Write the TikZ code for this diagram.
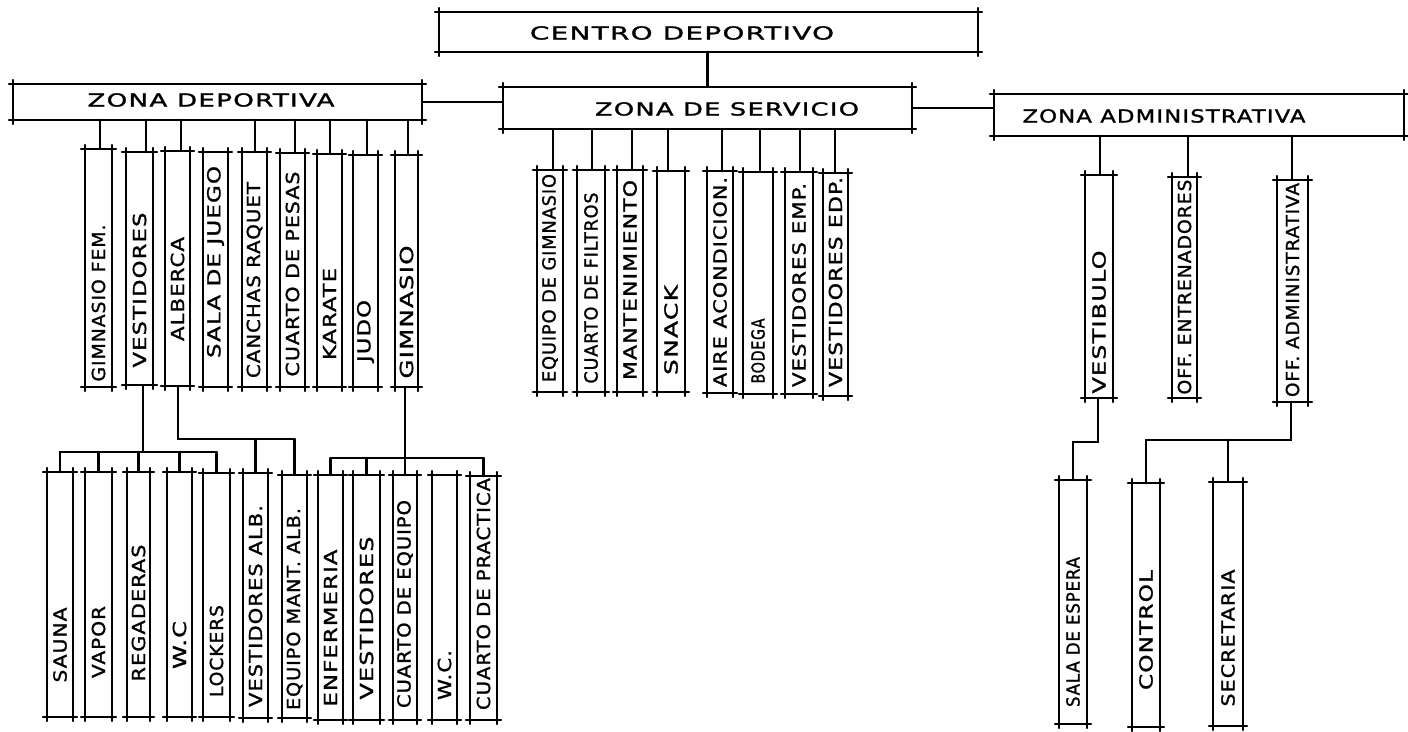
\documentclass[tikz,border=0pt]{standalone}
\usepackage{fontspec}
\usepackage{graphicx}
\usetikzlibrary{fit}
\newfontfamily\handfont{DejaVu Sans}[LetterSpace=5,FakeBold=1.2]
\tikzset{
  ink/.style={line width=1.2pt, line cap=round, draw=black},
  lbl/.style={inner sep=0pt, outer sep=0pt, font=\handfont\fontsize{9}{9}\selectfont},
  frame/.style={inner sep=0pt, outer sep=0pt}
}
% sketched box: name, x1, y1, x2, y2
\newcommand\sketchbox[5]{%
  \node[frame, fit={(#2,#3)(#4,#5)}] (#1) {};
  \draw[ink] ([xshift=-2pt]#1.north west) -- ([xshift=2pt]#1.north east);
  \draw[ink] ([xshift=-2pt]#1.south west) -- ([xshift=2pt]#1.south east);
  \draw[ink] ([yshift=2pt]#1.north west) -- ([yshift=-2pt]#1.south west);
  \draw[ink] ([yshift=2pt]#1.north east) -- ([yshift=-2pt]#1.south east);
}
% vertical room: name, x1, y1, x2, y2, text centre y, text length (px), text
\newcommand\room[8]{%
  \sketchbox{#1}{#2}{#3}{#4}{#5}
  \node[lbl, rotate=90] (#1-t) at ({(#2+#4)/2},#6) {\resizebox{\dimexpr #7pt/2\relax}{\height}{#8}};
}
% zone: name, x1, y1, x2, y2, text x, text y, length, text
\newcommand\zone[9]{%
  \sketchbox{#1}{#2}{#3}{#4}{#5}
  \node[lbl] (#1-t) at (#6,#7) {\resizebox{\dimexpr #8pt/2\relax}{\height}{#9}};
}
\begin{document}
\begin{tikzpicture}[x=0.5pt,y=-0.5pt]
\useasboundingbox (0,0) rectangle (1408,732);
\fill[white] (0,0) rectangle (1408,732);

% ---- zones ----
\zone{cd}{439}{12}{978}{52}{682}{33}{304}{CENTRO DEPORTIVO}
\zone{zd}{13}{84}{422}{120}{211}{100}{247}{ZONA DEPORTIVA}
\zone{zs}{503}{87}{912}{129}{727}{109}{264}{ZONA DE SERVICIO}
\zone{za}{994}{94}{1404}{136}{1164}{116}{283}{ZONA ADMINISTRATIVA}

\draw[ink] (zs.north) -- (zs.north |- cd.south);
\draw[ink] (zd.east) -- (zd.east -| zs.west);
\draw[ink] (zs.east) -- (zs.east -| za.west);

% ---- zona deportiva ----
\room{gf}{85}{149}{112}{387}{303}{157}{GIMNASIO FEM.}
\room{v}{126}{152}{153}{385}{290}{155}{VESTIDORES}
\room{a}{165}{151}{190}{386}{289}{104}{ALBERCA}
\room{sj}{203}{152}{228}{387}{262}{192}{SALA DE JUEGO}
\room{cr}{242}{152}{267}{387}{280}{196}{CANCHAS RAQUET}
\room{cp}{280}{153}{305}{387}{274}{205}{CUARTO DE PESAS}
\room{k}{317}{154}{342}{387}{314}{92}{KARATE}
\room{j}{353}{155}{378}{387}{331}{62}{JUDO}
\room{g}{395}{155}{418}{387}{312}{133}{GIMNASIO}

\foreach \n/\x in {gf/100,v/146,a/181,cr/255,cp/295,k/330,j/367,g/408}
  \draw[ink] (zd.south -| \x,0) -- (\n.north -| \x,0);

% vestidores
\room{sau}{47}{472}{73}{717}{645}{75}{SAUNA}
\room{vap}{85}{472}{112}{717}{642}{72}{VAPOR}
\room{reg}{127}{472}{150}{717}{613}{137}{REGADERAS}
\room{wca}{167}{472}{192}{717}{645}{48}{W.C}
\room{lock}{203}{473}{230}{717}{651}{92}{LOCKERS}
\coordinate (vbar) at (143,452);
\draw[ink] (v.south -| vbar) -- (vbar);
\draw[ink] (sau.north |- vbar) -- (lock.north |- vbar);
\foreach \n in {sau,vap,reg,wca,lock}
  \draw[ink] (\n.north) -- (\n.north |- vbar);

% alberca
\room{valb}{243}{473}{268}{718}{606}{202}{VESTIDORES ALB.}
\room{emant}{282}{475}{307}{718}{609}{202}{EQUIPO MANT. ALB.}
\coordinate (abar) at (178,439);
\draw[ink] (a.south -| abar) -- (abar) -- (abar -| emant.north);
\foreach \n in {valb,emant}
  \draw[ink] (\n.north) -- (\n.north |- abar);

% gimnasio
\room{enf}{318}{475}{343}{720}{628}{157}{ENFERMERIA}
\room{vesb}{353}{475}{380}{720}{618}{163}{VESTIDORES}
\room{ceq}{393}{475}{417}{720}{604}{208}{CUARTO DE EQUIPO}
\room{wcb}{432}{475}{457}{720}{675}{50}{W.C.}
\room{cpr}{470}{476}{497}{720}{594}{232}{CUARTO DE PRACTICA}
\coordinate (gbar) at (405,458);
\draw[ink] (g.south -| gbar) -- (gbar);
\draw[ink] (enf.north |- gbar) -- (cpr.north |- gbar);
\foreach \n in {enf,vesb,ceq,cpr}
  \draw[ink] (\n.north) -- (\n.north |- gbar);

% ---- zona de servicio ----
\room{eg}{537}{170}{563}{392}{278}{208}{EQUIPO DE GIMNASIO}
\room{cf}{577}{170}{605}{392}{288}{191}{CUARTO DE FILTROS}
\room{mt}{617}{170}{643}{392}{280}{200}{MANTENIMIENTO}
\room{sn}{657}{171}{685}{392}{330}{90}{SNACK}
\room{ac}{707}{171}{733}{393}{282}{210}{AIRE ACONDICION.}
\room{bd}{743}{172}{773}{394}{351}{65}{BODEGA}
\room{ve}{785}{172}{813}{394}{285}{204}{VESTIDORES EMP.}
\room{vd}{823}{173}{848}{396}{282}{210}{VESTIDORES EDP.}
\foreach \n/\x in {eg/553,cf/592,mt/632,sn/668,ac/722,bd/760,ve/800,vd/835}
  \draw[ink] (zs.south -| \x,0) -- (\n.north -| \x,0);

% ---- zona administrativa ----
\room{vb}{1085}{175}{1113}{398}{322}{143}{VESTIBULO}
\room{oe}{1172}{177}{1197}{398}{287}{215}{OFF. ENTRENADORES}
\room{oa}{1277}{180}{1308}{402}{290}{214}{OFF. ADMINISTRATIVA}
\foreach \n/\x in {vb/1100,oe/1188,oa/1292}
  \draw[ink] (za.south -| \x,0) -- (\n.north -| \x,0);

\room{se}{1059}{480}{1087}{724}{632}{150}{SALA DE ESPERA}
\room{ctrl}{1132}{483}{1160}{727}{630}{120}{CONTROL}
\room{sec}{1213}{482}{1243}{726}{638}{137}{SECRETARIA}
\coordinate (vbbar) at (1098,442);
\draw[ink] (vb.south -| vbbar) -- (vbbar) -- (se.north |- vbbar) -- (se.north);
\coordinate (oabar) at (1291,440);
\draw[ink] (oa.south -| oabar) -- (oabar) -- (ctrl.north |- oabar) -- (ctrl.north);
\draw[ink] (sec.north) -- (sec.north |- oabar);
\end{tikzpicture}
\end{document}
